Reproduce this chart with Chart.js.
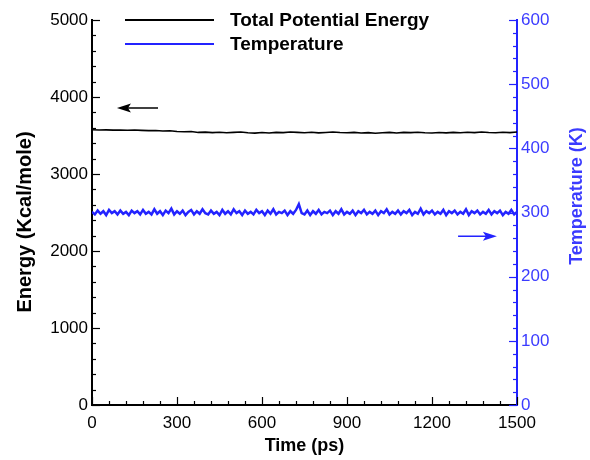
<!DOCTYPE html>
<html lang="en">
<head>
    <meta charset="UTF-8">
    <title>Energy and Temperature vs Time</title>
    <script src="https://cdn.jsdelivr.net/npm/chart.js"></script>
    <style>
        body { margin: 0; background: white; }
        canvas { display: block; }
    </style>
</head>
<body>
    <canvas id="mdChart" width="590" height="460"></canvas>

    <script>
        // time samples (ps)
        const energyTime = [0, 25, 50, 75, 100, 125, 150, 175, 200, 225, 250, 275, 300, 325, 350, 375, 400, 425, 450, 475,
            500, 525, 550, 575, 600, 625, 650, 675, 700, 725, 750, 775, 800, 825, 850, 875, 900, 925, 950, 975,
            1000, 1025, 1050, 1075, 1100, 1125, 1150, 1175, 1200, 1225, 1250, 1275, 1300, 1325, 1350, 1375, 1400, 1425, 1450, 1475, 1500];
        const energyVals = [3575, 3571, 3573, 3570, 3572, 3569, 3571, 3566, 3563, 3565, 3558, 3561, 3552, 3548, 3551, 3540, 3544, 3538, 3542, 3536,
            3540, 3545, 3535, 3531, 3539, 3533, 3541, 3537, 3546, 3540, 3536, 3543, 3534, 3539, 3545, 3538, 3535, 3541, 3532, 3537,
            3530, 3536, 3540, 3533, 3541, 3537, 3543, 3536, 3532, 3538, 3534, 3540, 3536, 3542, 3538, 3545, 3539, 3536, 3543, 3538, 3545];

        const tempTime = [0, 10, 20, 30, 40, 50, 60, 70, 80, 90, 100, 110, 120, 130, 140, 150, 160, 170, 180, 190,
            200, 210, 220, 230, 240, 250, 260, 270, 280, 290, 300, 310, 320, 330, 340, 350, 360, 370, 380, 390,
            400, 410, 420, 430, 440, 450, 460, 470, 480, 490, 500, 510, 520, 530, 540, 550, 560, 570, 580, 590,
            600, 610, 620, 630, 640, 650, 660, 670, 680, 690, 700, 710, 720, 730, 740, 750, 760, 770, 780, 790,
            800, 810, 820, 830, 840, 850, 860, 870, 880, 890, 900, 910, 920, 930, 940, 950, 960, 970, 980, 990,
            1000, 1010, 1020, 1030, 1040, 1050, 1060, 1070, 1080, 1090, 1100, 1110, 1120, 1130, 1140, 1150, 1160, 1170, 1180, 1190,
            1200, 1210, 1220, 1230, 1240, 1250, 1260, 1270, 1280, 1290, 1300, 1310, 1320, 1330, 1340, 1350, 1360, 1370, 1380, 1390,
            1400, 1410, 1420, 1430, 1440, 1450, 1460, 1470, 1480, 1490, 1500];
        const tempVals = [301, 297, 303, 298, 302, 296, 304, 299, 302, 297,
            303, 298, 301, 296, 303, 299, 302, 297, 304, 298,
            301, 297, 305, 298, 302, 296, 303, 299, 306, 297,
            302, 298, 303, 296, 301, 304, 297, 302, 298, 305,
            299, 297, 303, 298, 301, 296, 304, 298, 302, 297,
            305, 299, 302, 296, 303, 298, 301, 297, 304, 299,
            302, 296, 303, 298, 305, 297, 301, 299, 303, 296,
            302, 298, 304, 313, 299, 297, 303, 296, 302, 298,
            304, 297, 301, 299, 303, 296, 302, 298, 305, 297,
            301, 298, 303, 296, 302, 299, 304, 297, 301, 298,
            303, 296, 302, 299, 305, 297, 301, 298, 303, 297,
            302, 299, 304, 296, 301, 298, 306, 297, 302, 299,
            303, 297, 301, 298, 304, 296, 302, 299, 303, 297,
            301, 298, 305, 296, 302, 299, 303, 297, 301, 298,
            304, 297, 302, 299, 303, 296, 301, 298, 304, 297,
            301];

        // annotation arrows in data units: [time, value]
        const energyArrow = { from: [233, 3857], to: [88, 3857] };
        const tempArrow = { from: [1292, 263], to: [1429, 263] };

        const BLUE = '#2323ff';
        const BLUE_TXT = '#3b3bff';
        const FONT = '"Liberation Sans", Arial, sans-serif';

        function pts(xs, ys) {
            return xs.map((x, i) => ({ x: x, y: ys[i] }));
        }

        // ticks pointing into the plot, majors longer than minors
        const inwardTicks = {
            id: 'inwardTicks',
            afterDraw(chart) {
                const ctx = chart.ctx;
                const a = chart.chartArea;
                const s = chart.scales;
                ctx.save();
                ctx.lineWidth = 1.2;

                ctx.strokeStyle = '#000';
                for (let v = 0; v <= 1500; v += 60) {
                    let px = Math.round(s.x.getPixelForValue(v)) + 0.5;
                    let len = v % 300 === 0 ? 8 : 4;
                    ctx.beginPath(); ctx.moveTo(px, a.bottom); ctx.lineTo(px, a.bottom - len); ctx.stroke();
                }
                for (let v = 0; v <= 5000; v += 200) {
                    let py = Math.round(s.y.getPixelForValue(v)) + 0.5;
                    let len = v % 1000 === 0 ? 8 : 4;
                    ctx.beginPath(); ctx.moveTo(a.left, py); ctx.lineTo(a.left + len, py); ctx.stroke();
                }
                ctx.strokeStyle = BLUE;
                for (let v = 0; v <= 600; v += 20) {
                    let py = Math.round(s.y1.getPixelForValue(v)) + 0.5;
                    let len = v % 100 === 0 ? 8 : 4;
                    ctx.beginPath(); ctx.moveTo(a.right, py); ctx.lineTo(a.right - len, py); ctx.stroke();
                }
                ctx.restore();
            }
        };

        function arrow(ctx, x1, y1, x2, y2, color) {
            const dir = Math.sign(x2 - x1);
            ctx.strokeStyle = color;
            ctx.fillStyle = color;
            ctx.lineWidth = 1.5;
            ctx.beginPath(); ctx.moveTo(x1, y1); ctx.lineTo(x2 - dir * 8, y2); ctx.stroke();
            ctx.beginPath();
            ctx.moveTo(x2, y2);
            ctx.lineTo(x2 - dir * 14, y2 - 4.5);
            ctx.lineTo(x2 - dir * 11, y2);
            ctx.lineTo(x2 - dir * 14, y2 + 4.5);
            ctx.closePath();
            ctx.fill();
        }

        function vText(ctx, text, x, y, size, color) {
            ctx.save();
            ctx.translate(x, y);
            ctx.rotate(-Math.PI / 2);
            ctx.font = 'bold ' + size + 'px ' + FONT;
            ctx.fillStyle = color;
            ctx.textAlign = 'center';
            ctx.textBaseline = 'middle';
            ctx.fillText(text, 0, 0);
            ctx.restore();
        }

        const extras = {
            id: 'extras',
            afterDraw(chart) {
                const ctx = chart.ctx;
                const s = chart.scales;
                ctx.save();
                arrow(ctx, s.x.getPixelForValue(energyArrow.from[0]), s.y.getPixelForValue(energyArrow.from[1]),
                    s.x.getPixelForValue(energyArrow.to[0]), s.y.getPixelForValue(energyArrow.to[1]), '#000');
                arrow(ctx, s.x.getPixelForValue(tempArrow.from[0]), s.y1.getPixelForValue(tempArrow.from[1]),
                    s.x.getPixelForValue(tempArrow.to[0]), s.y1.getPixelForValue(tempArrow.to[1]), BLUE);

                // both vertical titles read bottom to top
                vText(ctx, 'Energy (Kcal/mole)', 25, 222, 20, '#000');
                vText(ctx, 'Temperature (K)', 577, 196, 18, BLUE_TXT);

                // legend, drawn inside the plot at the top
                const rows = [20, 44];
                chart.data.datasets.forEach((ds, i) => {
                    ctx.strokeStyle = ds.borderColor;
                    ctx.lineWidth = 2;
                    ctx.beginPath(); ctx.moveTo(125, rows[i]); ctx.lineTo(214, rows[i]); ctx.stroke();
                    ctx.fillStyle = '#000';
                    ctx.font = 'bold 19px ' + FONT;
                    ctx.textBaseline = 'middle';
                    ctx.textAlign = 'left';
                    ctx.fillText(ds.label, 230, rows[i] + 1);
                });
                ctx.restore();
            }
        };

        const plain = v => String(v);

        new Chart(document.getElementById('mdChart'), {
            type: 'line',
            data: {
                datasets: [{
                    label: 'Total Potential Energy',
                    data: pts(energyTime, energyVals),
                    borderColor: '#000',
                    borderWidth: 1.6,
                    pointRadius: 0,
                    yAxisID: 'y'
                }, {
                    label: 'Temperature',
                    data: pts(tempTime, tempVals),
                    borderColor: BLUE,
                    borderWidth: 2.5,
                    pointRadius: 0,
                    yAxisID: 'y1'
                }]
            },
            options: {
                responsive: false,
                animation: false,
                layout: { padding: { top: 20, left: 0, right: 0, bottom: 0 } },
                plugins: { legend: { display: false }, tooltip: { enabled: false } },
                scales: {
                    x: {
                        type: 'linear', min: 0, max: 1500,
                        afterFit: s => { s.height = 55; },
                        grid: { display: false, drawTicks: false },
                        border: { display: true, color: '#000', width: 2 },
                        ticks: { stepSize: 300, padding: 8, autoSkip: false, maxRotation: 0, callback: plain, color: '#000', font: { family: FONT, size: 17 } },
                        title: { display: true, text: 'Time (ps)', color: '#000', padding: { top: 0, bottom: 3 }, font: { family: FONT, size: 18, weight: 'bold' } }
                    },
                    y: {
                        position: 'left', min: 0, max: 5000,
                        afterFit: s => { s.width = 92; },
                        grid: { display: false, drawTicks: false },
                        border: { display: true, color: '#000', width: 2 },
                        ticks: { stepSize: 1000, padding: 4, autoSkip: false, callback: plain, color: '#000', font: { family: FONT, size: 17 } },
                        title: { display: false }
                    },
                    y1: {
                        position: 'right', min: 0, max: 600,
                        afterFit: s => { s.width = 73; },
                        grid: { display: false, drawTicks: false },
                        border: { display: true, color: BLUE, width: 2 },
                        ticks: { stepSize: 100, padding: 4, autoSkip: false, callback: plain, color: BLUE_TXT, font: { family: FONT, size: 17 } },
                        title: { display: false }
                    }
                }
            },
            plugins: [inwardTicks, extras]
        });
    </script>
</body>
</html>
